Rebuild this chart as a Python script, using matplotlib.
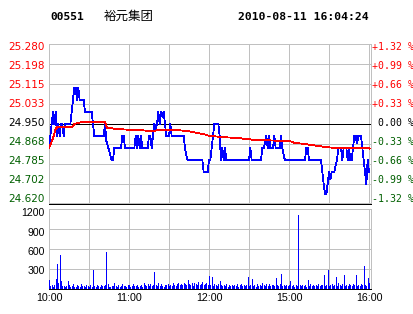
import matplotlib
matplotlib.use('Agg')
import matplotlib.pyplot as plt

# --- datos ---
codigo = '00551'
nombre = '裕元集团'
fecha_hora = '2010-08-11 16:04:24'
cierre_anterior = 24.95

precio_niveles = [25.280, 25.198, 25.115, 25.033, 24.950, 24.868, 24.785, 24.702, 24.620]
porcentaje_etiquetas = ['+1.32 %', '+0.99 %', '+0.66 %', '+0.33 %', ' 0.00 %',
                        '-0.33 %', '-0.66 %', '-0.99 %', '-1.32 %']
volumen_niveles = [1200, 900, 600, 300]
hora_etiquetas = ['10:00', '11:00', '12:00', '15:00', '16:00']
hora_minutos = [0, 60, 120, 180, 240]

# precio por minuto (minuto 0 = 10:00, la pausa 12:30-14:30 no se dibuja)
precios = [
    24.85, 24.90, 24.95, 25.00, 24.95, 25.00, 24.90, 24.95, 24.90, 24.95,
    24.95, 24.90, 24.95, 24.95, 24.95, 24.95, 24.95, 25.00, 25.05, 25.10,
    25.10, 25.05, 25.10, 25.05, 25.05, 25.05, 25.05, 25.00, 25.00, 25.00,
    25.00, 25.00, 25.00, 24.95, 24.90, 24.90, 24.90, 24.90, 24.90, 24.90,
    24.90, 24.90, 24.95, 24.88, 24.86, 24.84, 24.82, 24.80, 24.80, 24.85,
    24.85, 24.85, 24.85, 24.85, 24.85, 24.90, 24.90, 24.85, 24.85, 24.85,
    24.85, 24.85, 24.85, 24.85, 24.85, 24.90, 24.85, 24.90, 24.85, 24.90,
    24.85, 24.85, 24.85, 24.85, 24.85, 24.90, 24.90, 24.85, 24.90, 24.95,
    24.93, 24.95, 25.00, 24.95, 25.00, 24.98, 25.00, 24.95, 24.90, 24.90,
    24.90, 24.95, 24.90, 24.90, 24.90, 24.90, 24.90, 24.90, 24.90, 24.90,
    24.90, 24.90, 24.85, 24.82, 24.80, 24.80, 24.80, 24.80, 24.80, 24.80,
    24.80, 24.80, 24.80, 24.80, 24.80, 24.80, 24.75, 24.75, 24.75, 24.75,
    24.80, 24.80, 24.85, 24.90, 24.95, 24.95, 24.95, 24.95, 24.90, 24.80,
    24.85, 24.80, 24.85, 24.80, 24.80, 24.80, 24.80, 24.80, 24.80, 24.80,
    24.80, 24.80, 24.80, 24.80, 24.80, 24.80, 24.80, 24.80, 24.80, 24.80,
    24.80, 24.85, 24.80, 24.80, 24.80, 24.80, 24.80, 24.80, 24.80, 24.80,
    24.85, 24.85, 24.87, 24.90, 24.85, 24.90, 24.85, 24.85, 24.85, 24.90,
    24.85, 24.85, 24.85, 24.85, 24.90, 24.85, 24.82, 24.80, 24.80, 24.80,
    24.80, 24.80, 24.80, 24.80, 24.80, 24.80, 24.80, 24.80, 24.80, 24.80,
    24.80, 24.80, 24.80, 24.85, 24.85, 24.80, 24.80, 24.80, 24.80, 24.80,
    24.80, 24.80, 24.80, 24.80, 24.80, 24.75, 24.70, 24.66, 24.66, 24.70,
    24.75, 24.72, 24.75, 24.75, 24.75, 24.78, 24.80, 24.85, 24.85, 24.85,
    24.80, 24.85, 24.85, 24.85, 24.80, 24.85, 24.80, 24.80, 24.85, 24.90,
    24.90, 24.87, 24.90, 24.90, 24.90, 24.85, 24.80, 24.75, 24.70, 24.80,
    24.75,
]

# precio medio (puntos de quiebre: minuto, precio)
medio_minutos = [0, 3, 5, 6.5, 17.5, 19, 24, 42, 43.5, 49, 59, 69, 77, 84, 97,
                 104, 109, 117, 120.5, 129, 144, 152, 164, 181, 184, 194, 209,
                 214, 239, 240.5]
medio_precios = [24.85, 24.89, 24.93, 24.938, 24.938, 24.95, 24.957, 24.957,
                 24.934, 24.93, 24.926, 24.924, 24.92, 24.926, 24.924, 24.92,
                 24.915, 24.906, 24.90, 24.896, 24.89, 24.885, 24.882, 24.878,
                 24.872, 24.865, 24.853, 24.851, 24.85, 24.848]

# volumen por minuto
volumenes = [
    135, 40, 55, 30, 60, 150, 375, 90, 510, 120, 35, 45, 30, 40, 110, 60, 25, 45, 70, 30,
    30, 55, 40, 25, 70, 35, 45, 20, 60, 40, 30, 50, 25, 285, 45, 30, 55, 40, 25, 60,
    35, 45, 50, 560, 70, 30, 20, 45, 35, 80, 40, 25, 55, 30, 45, 70, 35, 40, 25, 50,
    60, 30, 45, 75, 40, 35, 55, 25, 45, 60, 30, 80, 50, 40, 65, 35, 70, 45, 55, 255,
    60, 40, 85, 35, 70, 45, 30, 60, 50, 75, 40, 55, 35, 80, 60, 45, 70, 90, 55, 65,
    50, 85, 70, 60, 135, 75, 55, 80, 45, 90, 65, 50, 105, 60, 75, 100, 55, 70, 85, 60,
    195, 60, 170, 45, 70, 55, 40, 65, 120, 50, 35, 60, 45, 70, 30, 55, 40, 60, 35, 50,
    45, 65, 30, 55, 75, 40, 60, 35, 50, 170, 45, 60, 145, 40, 55, 30, 70, 45, 60, 35,
    90, 50, 40, 65, 45, 75, 35, 55, 60, 45, 160, 50, 35, 70, 225, 40, 55, 45, 60, 35,
    50, 120, 40, 55, 30, 60, 45, 1110, 50, 35, 60, 40, 55, 30, 125, 45, 70, 35, 55, 40,
    60, 45, 75, 35, 55, 50, 200, 40, 60, 285, 45, 55, 70, 40, 60, 175, 45, 80, 50, 35,
    65, 200, 45, 60, 40, 75, 50, 35, 70, 55, 200, 45, 60, 40, 70, 55, 345, 60, 45, 160, 85,
]

minutos = list(range(len(precios)))

# --- colores y geometria (pixeles de la imagen 414x314) ---
W, H = 414, 314
ROJO = '#FF0000'
VERDE = '#005F00'
AZUL = '#0000FF'
GRIS = '#C0C0C0'
LW = 0.6  # ~1 px sin antialias

x0, x1 = 49, 371
p_top, p_bot = 44.3, 203.5
v_top, v_bot = 209.3, 288.6

fig = plt.figure(figsize=(W / 100, H / 100), dpi=100)
fig.patch.set_facecolor('white')


def caja(top, bot):
    return [x0 / W, 1 - bot / H, (x1 - x0) / W, (bot - top) / H]


def preparar(ax, yticks):
    ax.set_xlim(0, 241.5)
    ax.set_xticks(range(0, 241, 30))
    ax.set_yticks(yticks)
    ax.grid(True, color=GRIS, linewidth=LW, antialiased=False)
    ax.set_axisbelow(True)
    ax.tick_params(length=0, labelleft=False, labelbottom=False)
    for lado in ['left', 'right', 'top']:
        ax.spines[lado].set_color(GRIS)
        ax.spines[lado].set_linewidth(LW)
        ax.spines[lado].set_antialiased(False)
    ax.spines['bottom'].set_color('black')
    ax.spines['bottom'].set_linewidth(LW)
    ax.spines['bottom'].set_antialiased(False)


# panel de precios
ax = fig.add_axes(caja(p_top, p_bot))
ax.set_ylim(min(precio_niveles), max(precio_niveles))
preparar(ax, precio_niveles)
ax.axhline(cierre_anterior, color='black', linewidth=LW, antialiased=False, zorder=2)
ax.plot(minutos, precios, color=AZUL, linewidth=LW, antialiased=False, zorder=3)
ax.plot(medio_minutos, medio_precios, color=ROJO, linewidth=LW, antialiased=False, zorder=4)

# etiquetas de precio (izquierda) y porcentaje (derecha)
paso = (199.4 - 47.2) / (len(precio_niveles) - 1)
for i, (nivel, pct) in enumerate(zip(precio_niveles, porcentaje_etiquetas)):
    if nivel > cierre_anterior:
        color = ROJO
    elif nivel < cierre_anterior:
        color = VERDE
    else:
        color = 'black'
    y = 1 - (47.2 + i * paso) / H
    fig.text(44.5 / W, y, f'{nivel:.3f}', ha='right', va='center', color=color,
             fontsize=7.5, family='DejaVu Sans')
    fig.text(372 / W, y, pct, ha='left', va='center', color=color,
             fontsize=7.1, family='DejaVu Sans Mono')

# panel de volumen
ax2 = fig.add_axes(caja(v_top, v_bot))
ax2.set_ylim(0, 1200)
preparar(ax2, [0, 300, 600, 900, 1200])
ax2.vlines(minutos, 0, volumenes, color=AZUL, linewidth=LW, antialiased=False, zorder=3)

for i, nivel in enumerate(volumen_niveles):
    y = 1 - (213.5 + i * 19.3) / H
    fig.text(44.5 / W, y, str(nivel), ha='right', va='center', color='black',
             fontsize=7.6, family='Liberation Sans')

for etiqueta, m in zip(hora_etiquetas, hora_minutos):
    xf = (x0 + m * (x1 - x0) / 241.5) / W
    fig.text(xf, 1 - 298 / H, etiqueta, ha='center', va='center', color='black',
             fontsize=7.7, family='Liberation Sans')

# cabecera
fig.text(50 / W, 1 - 20 / H, codigo, ha='left', va='baseline', fontsize=8.1,
         family='DejaVu Sans Mono', weight='bold')
fig.text(104 / W, 1 - 19.5 / H, nombre, ha='left', va='baseline', fontsize=9,
         family=['Noto Sans CJK SC', 'DejaVu Sans'])
fig.text(238 / W, 1 - 20 / H, fecha_hora, ha='left', va='baseline', fontsize=8.2,
         family='DejaVu Sans Mono', weight='bold')

fig.savefig('out.png', dpi=100, facecolor='white')
plt.close(fig)
